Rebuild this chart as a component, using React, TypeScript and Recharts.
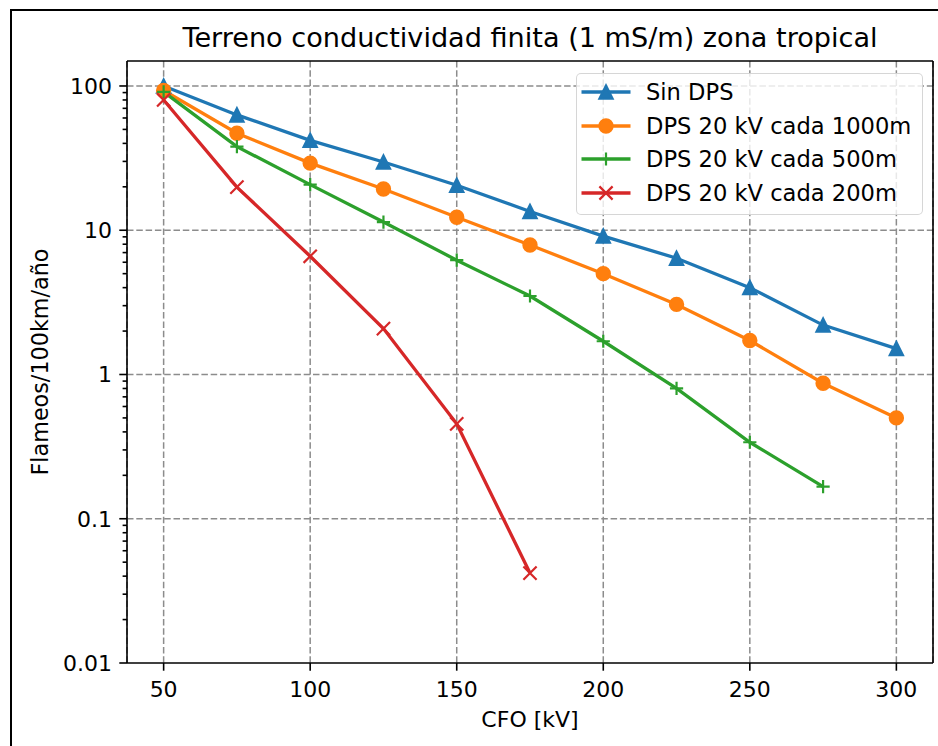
import React from 'react';
import { LineChart, Line, XAxis, YAxis, CartesianGrid, ReferenceLine, Legend } from 'recharts';

// CFO [kV] en el eje x
const cfo = [50, 75, 100, 125, 150, 175, 200, 225, 250, 275, 300];

// Flameos/100km/año por configuración
const sinDps = [100, 63, 42, 29.7, 20.5, 13.5, 9.1, 6.4, 4.0, 2.2, 1.51];
const dps1000 = [93, 47, 29.2, 19.3, 12.3, 7.9, 5.0, 3.06, 1.72, 0.87, 0.5];
const dps500 = [91, 38, 20.7, 11.4, 6.2, 3.5, 1.7, 0.8, 0.339, 0.167];
const dps200 = [80, 19.9, 6.6, 2.08, 0.455, 0.042];

const xTicks = [50, 100, 150, 200, 250, 300];
const yMajor = [0.01, 0.1, 1, 10, 100];
const yMinor = [
  0.02, 0.03, 0.04, 0.05, 0.06, 0.07, 0.08, 0.09,
  0.2, 0.3, 0.4, 0.5, 0.6, 0.7, 0.8, 0.9,
  2, 3, 4, 5, 6, 7, 8, 9,
  20, 30, 40, 50, 60, 70, 80, 90,
];

const X_DOMAIN: [number, number] = [37.5, 312.5];
const Y_DOMAIN: [number, number] = [0.01, 149];

const FONT = '"DejaVu Sans", sans-serif';
const GRID = '#8c8c8c';

const SERIES = [
  { key: 'sinDps', name: 'Sin DPS', color: '#1f77b4', marker: 'triangle', values: sinDps },
  { key: 'dps1000', name: 'DPS 20 kV cada 1000m', color: '#ff7f0e', marker: 'circle', values: dps1000 },
  { key: 'dps500', name: 'DPS 20 kV cada 500m', color: '#2ca02c', marker: 'plus', values: dps500 },
  { key: 'dps200', name: 'DPS 20 kV cada 200m', color: '#d62728', marker: 'cross', values: dps200 },
];

const data = cfo.map((x, i) => {
  const row: Record<string, number | null> = { cfo: x };
  SERIES.forEach((s) => {
    row[s.key] = s.values[i] ?? null;
  });
  return row;
});

function Marker({ kind, cx, cy, color }: { kind: string; cx: number; cy: number; color: string }) {
  const r = 6.6;
  if (kind === 'triangle') {
    return (
      <path
        d={`M${cx},${cy - r}L${cx - r},${cy + r}L${cx + r},${cy + r}Z`}
        fill={color}
        stroke={color}
        strokeWidth={2.2}
      />
    );
  }
  if (kind === 'circle') {
    return <circle cx={cx} cy={cy} r={r} fill={color} stroke={color} strokeWidth={2.2} />;
  }
  if (kind === 'plus') {
    return (
      <path d={`M${cx - r},${cy}H${cx + r}M${cx},${cy - r}V${cy + r}`} stroke={color} strokeWidth={2.2} fill="none" />
    );
  }
  return (
    <path
      d={`M${cx - r},${cy - r}L${cx + r},${cy + r}M${cx - r},${cy + r}L${cx + r},${cy - r}`}
      stroke={color}
      strokeWidth={2.2}
      fill="none"
    />
  );
}

const YTick = (props: any) => {
  const { x, y, payload } = props;
  const major = yMajor.includes(payload.value);
  return (
    <g>
      <line x1={x - (major ? 7.7 : 4.4)} x2={x} y1={y} y2={y} stroke="#000" strokeWidth={1.6} />
      {major && (
        <text x={x - 15} y={y + 8} textAnchor="end" fontSize={22} fontFamily={FONT} fill="#000">
          {String(payload.value)}
        </text>
      )}
    </g>
  );
};

const XTick = (props: any) => {
  const { x, y, payload } = props;
  return (
    <g>
      <line x1={x} x2={x} y1={y} y2={y + 7.7} stroke="#000" strokeWidth={1.6} />
      <text x={x} y={y + 34} textAnchor="middle" fontSize={22} fontFamily={FONT} fill="#000">
        {payload.value}
      </text>
    </g>
  );
};

const LegendBox = () => (
  <div
    style={{
      width: 347,
      height: 142,
      boxSizing: 'border-box',
      border: '1.6px solid rgba(204,204,204,0.8)',
      borderRadius: 5,
      background: 'rgba(255,255,255,0.8)',
      paddingTop: 1,
      fontFamily: FONT,
    }}
  >
    {SERIES.map((s) => (
      <div key={s.key} style={{ height: 33.7, display: 'flex', alignItems: 'center' }}>
        <svg width={64} height={34} style={{ flex: 'none' }}>
          <line x1={4.5} x2={53.5} y1={17} y2={17} stroke={s.color} strokeWidth={3.3} />
          <Marker kind={s.marker} cx={29} cy={17} color={s.color} />
        </svg>
        <span style={{ fontSize: 22.6, marginLeft: 5, color: '#000', whiteSpace: 'nowrap' }}>{s.name}</span>
      </div>
    ))}
  </div>
);

export default function App() {
  return (
    <div style={{ position: 'absolute', left: 0, top: 0, width: 938, height: 746, background: '#fff', overflow: 'hidden' }}>
      <div
        style={{
          position: 'absolute',
          left: 10,
          top: 9,
          width: 940,
          height: 750,
          borderTop: '2px solid #000',
          borderLeft: '2px solid #000',
        }}
      />
      <div style={{ position: 'absolute', left: 0, top: 0 }}>
        <LineChart width={938} height={746} data={data} margin={{ top: 61, right: 5, bottom: 53, left: 67 }}>
          <CartesianGrid horizontal={false} stroke={GRID} strokeWidth={1.5} strokeDasharray="6.5 2.8" />
          {yMajor.slice(1).map((v) => (
            <ReferenceLine key={v} y={v} stroke={GRID} strokeWidth={1.5} strokeDasharray="6.5 2.8" ifOverflow="visible" />
          ))}
          <XAxis
            dataKey="cfo"
            type="number"
            domain={X_DOMAIN}
            ticks={xTicks}
            interval={0}
            allowDataOverflow
            height={30}
            tickSize={0}
            tickMargin={0}
            tick={<XTick />}
            axisLine={{ stroke: '#000', strokeWidth: 1.6 }}
          />
          <YAxis
            type="number"
            scale="log"
            domain={Y_DOMAIN}
            ticks={[...yMajor, ...yMinor]}
            interval={0}
            allowDataOverflow
            width={60}
            tickSize={0}
            tickMargin={0}
            tick={<YTick />}
            axisLine={{ stroke: '#000', strokeWidth: 1.6 }}
          />
          <ReferenceLine y={Y_DOMAIN[1]} stroke="#000" strokeWidth={1.6} ifOverflow="visible" />
          <ReferenceLine x={X_DOMAIN[1]} stroke="#000" strokeWidth={1.6} ifOverflow="visible" />
          {SERIES.map((s) => (
            <Line
              key={s.key}
              dataKey={s.key}
              name={s.name}
              type="linear"
              stroke={s.color}
              strokeWidth={3.3}
              isAnimationActive={false}
              activeDot={false}
              dot={(p: any) =>
                p.cx == null || p.cy == null || p.value == null ? (
                  <g key={`${s.key}-${p.index}`} />
                ) : (
                  <Marker key={`${s.key}-${p.index}`} kind={s.marker} cx={p.cx} cy={p.cy} color={s.color} />
                )
              }
            />
          ))}
          <Legend
            layout="vertical"
            align="center"
            verticalAlign="middle"
            content={<LegendBox />}
            wrapperStyle={{ position: 'absolute', left: 576, top: 73, width: 347, height: 142 }}
          />
        </LineChart>
      </div>
      <svg width={938} height={746} style={{ position: 'absolute', left: 0, top: 0, pointerEvents: 'none' }}>
        <text x={530} y={47} textAnchor="middle" fontSize={27.1} fontFamily={FONT} fill="#000">
          Terreno conductividad finita (1 mS/m) zona tropical
        </text>
        <text x={530} y={727} textAnchor="middle" fontSize={22} fontFamily={FONT} fill="#000">
          CFO [kV]
        </text>
        <text
          x={0}
          y={0}
          transform="translate(48 362) rotate(-90)"
          textAnchor="middle"
          fontSize={22.3}
          fontFamily={FONT}
          fill="#000"
        >
          Flameos/100km/año
        </text>
      </svg>
    </div>
  );
}
